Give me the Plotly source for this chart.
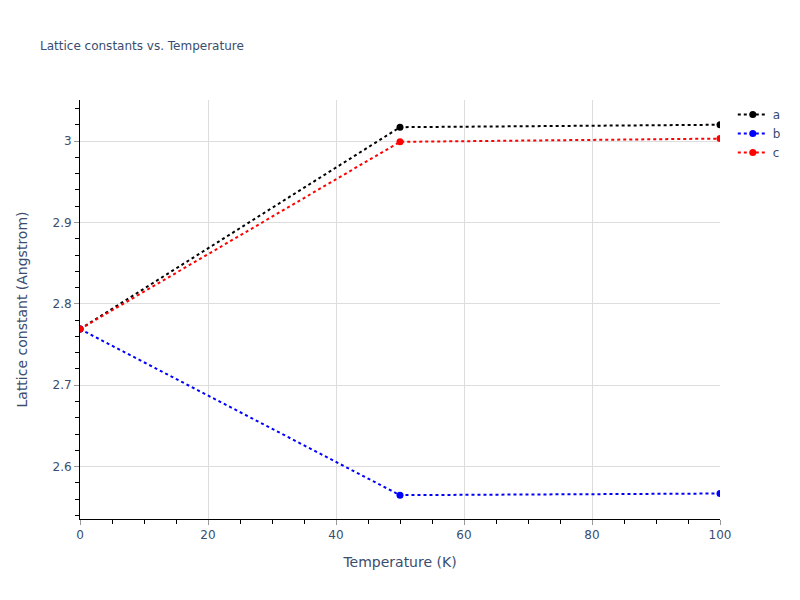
import plotly.graph_objects as go

temperature = [0, 50, 100]
a_vals = [2.769, 3.017, 3.020]
b_vals = [2.769, 2.565, 2.567]
c_vals = [2.769, 2.999, 3.003]
series_names = ["a", "b", "c"]
series_colors = ["black", "blue", "red"]

fig = go.Figure()
for name, vals, col in zip(series_names, [a_vals, b_vals, c_vals], series_colors):
    fig.add_trace(go.Scatter(
        x=temperature, y=vals, name=name, mode="lines+markers",
        line=dict(color=col, dash="dot", width=2),
        marker=dict(color=col, size=7),
    ))

fig.update_layout(
    template="plotly_white",
    width=800, height=600,
    title=dict(text="Lattice constants vs. Temperature", font=dict(size=12), x=0.05),
    margin=dict(l=80, r=80, t=100, b=81),
    legend=dict(x=1.02, y=1, xanchor="left", yanchor="top"),
    font=dict(family="DejaVu Sans, Verdana, sans-serif", color="#3a4d6e"),
)
fig.update_xaxes(
    title=dict(text="Temperature (K)"), range=[0, 100],
    showline=True, linecolor="black", linewidth=1,
    ticks="outside", tickcolor="#999999", ticklen=5, dtick=20,
    minor=dict(ticks="outside", dtick=5, ticklen=4, tickcolor="black", showgrid=False),
    gridcolor="#dddddd", zeroline=False,
)
fig.update_yaxes(
    title=dict(text="Lattice constant (Angstrom)", standoff=21), range=[2.5357, 3.0504],
    showline=True, linecolor="black", linewidth=1,
    ticks="outside", tickcolor="#999999", ticklen=5, dtick=0.1,
    minor=dict(ticks="outside", dtick=0.02, ticklen=4, tickcolor="black", showgrid=False),
    gridcolor="#dddddd", zeroline=False,
)

fig.write_html("out.html", config={"displayModeBar": False},
               post_script="document.body.style.margin='0px';")
